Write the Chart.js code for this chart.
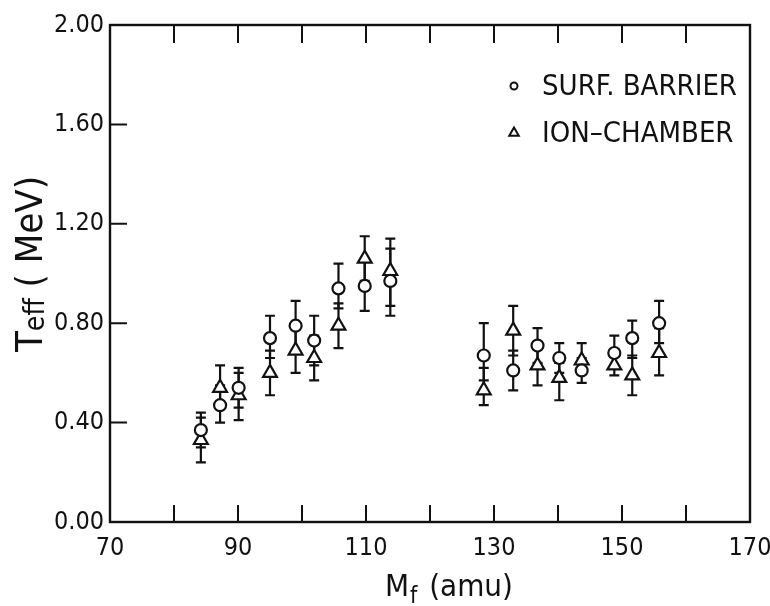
<!DOCTYPE html>
<html>
<head>
<meta charset="utf-8">
<script src="https://cdn.jsdelivr.net/npm/chart.js@4.4.0/dist/chart.umd.min.js"></script>
<style>
    html, body { margin: 0; padding: 0; background: #fff; }
    canvas { display: block; }
</style>
</head>
<body>
<canvas id="teffChart" width="770" height="606"></canvas>
<script>
// fragment mass (amu), shared by both detectors
const massValues = [84.2, 87.2, 90.1, 95.0, 99.0, 101.9, 105.7, 109.8, 113.8,
                    128.4, 133.0, 136.8, 140.2, 143.7, 148.8, 151.6, 155.8];

// surface barrier detector (circles)
const surfValues = [0.37, 0.47, 0.54, 0.74, 0.79, 0.73, 0.94, 0.95, 0.97,
                    0.67, 0.61, 0.71, 0.66, 0.61, 0.68, 0.74, 0.80];
const surfLow    = [0.30, 0.40, 0.46, 0.66, 0.69, 0.63, 0.86, 0.85, 0.83,
                    0.57, 0.53, 0.64, 0.60, 0.56, 0.62, 0.66, 0.72];
const surfHigh   = [0.44, 0.55, 0.62, 0.83, 0.89, 0.83, 1.04, 1.05, 1.10,
                    0.80, 0.69, 0.78, 0.72, 0.66, 0.75, 0.81, 0.89];

// ion chamber (triangles)
const ionValues  = [0.33, 0.54, 0.51, 0.60, 0.69, 0.66, 0.79, 1.06, 1.01,
                    0.53, 0.77, 0.63, 0.58, 0.65, 0.63, 0.59, 0.68];
const ionLow     = [0.24, 0.47, 0.41, 0.51, 0.60, 0.57, 0.70, 0.97, 0.87,
                    0.47, 0.67, 0.55, 0.49, 0.60, 0.59, 0.51, 0.59];
const ionHigh    = [0.42, 0.63, 0.60, 0.69, 0.78, 0.75, 0.88, 1.15, 1.14,
                    0.62, 0.87, 0.70, 0.64, 0.72, 0.67, 0.67, 0.78];

const seriesLabels = ['SURF. BARRIER', 'ION\u2013CHAMBER'];
const xLabelTicks = [70, 90, 110, 130, 150, 170];

const ink = '#111';
const fontFamily = "'DejaVu Sans Condensed', 'DejaVu Sans', sans-serif";

function toPoints(ys) {
    return massValues.map((m, i) => ({ x: m, y: ys[i] }));
}

// vertical error bars with small caps, drawn under the markers
const errorBars = {
    id: 'errorBars',
    beforeDatasetsDraw(chart) {
        const ctx = chart.ctx;
        const yScale = chart.scales.y;
        ctx.save();
        ctx.strokeStyle = ink;
        ctx.lineWidth = 2.2;
        chart.data.datasets.forEach((ds, i) => {
            chart.getDatasetMeta(i).data.forEach((pt, j) => {
                const top = yScale.getPixelForValue(ds.errHigh[j]);
                const bottom = yScale.getPixelForValue(ds.errLow[j]);
                ctx.beginPath();
                ctx.moveTo(pt.x, top);
                ctx.lineTo(pt.x, bottom);
                ctx.moveTo(pt.x - 5, top);
                ctx.lineTo(pt.x + 5, top);
                ctx.moveTo(pt.x - 5, bottom);
                ctx.lineTo(pt.x + 5, bottom);
                ctx.stroke();
            });
        });
        ctx.restore();
    }
};

// frame, inward ticks, axis titles and the legend inside the plot
const frameAndText = {
    id: 'frameAndText',
    afterDraw(chart) {
        const ctx = chart.ctx;
        const area = chart.chartArea;
        const xs = chart.scales.x;
        const ys = chart.scales.y;
        ctx.save();
        ctx.strokeStyle = ink;
        ctx.lineWidth = 2.4;
        ctx.strokeRect(area.left, area.top, area.right - area.left, area.bottom - area.top);

        ctx.lineWidth = 2;
        ctx.beginPath();
        xs.ticks.forEach(t => {
            if (t.value <= xs.min || t.value >= xs.max) return;
            const px = xs.getPixelForValue(t.value);
            ctx.moveTo(px, area.bottom);
            ctx.lineTo(px, area.bottom - 17);
            ctx.moveTo(px, area.top);
            ctx.lineTo(px, area.top + 18);
        });
        ys.ticks.forEach(t => {
            if (t.value <= ys.min || t.value >= ys.max) return;
            const py = ys.getPixelForValue(t.value);
            ctx.moveTo(area.left, py);
            ctx.lineTo(area.left + 17, py);
        });
        ctx.stroke();

        // x title: M_f (amu)
        ctx.fillStyle = ink;
        ctx.textBaseline = 'alphabetic';
        ctx.textAlign = 'left';
        let x = 385;
        ctx.font = '31px ' + fontFamily;
        ctx.fillText('M', x, 596);
        x += ctx.measureText('M').width + 1;
        ctx.font = '23px ' + fontFamily;
        ctx.fillText('f', x, 603);
        x += ctx.measureText('f').width + 3;
        ctx.font = '31px ' + fontFamily;
        ctx.fillText(' (amu)', x, 596);

        // y title: T_eff ( MeV), rotated
        ctx.save();
        ctx.translate(42, 352);
        ctx.rotate(-Math.PI / 2);
        let s = 0;
        ctx.font = '38px ' + fontFamily;
        ctx.fillText('T', s, 0);
        s += ctx.measureText('T').width;
        ctx.font = '28px ' + fontFamily;
        ctx.fillText('eff', s, 2);
        s += ctx.measureText('eff').width;
        ctx.font = '38px ' + fontFamily;
        ctx.fillText(' ( MeV)', s, 0);
        ctx.restore();

        // legend
        const rows = [86, 133];
        chart.data.datasets.forEach((ds, i) => {
            ctx.lineWidth = 2;
            ctx.strokeStyle = ink;
            ctx.fillStyle = '#fff';
            Chart.helpers.drawPoint(ctx, {
                pointStyle: ds.pointStyle,
                radius: ds.pointStyle === 'triangle' ? 5.5 : 3.5,
                borderWidth: 2
            }, 514, rows[i]);
            ctx.fillStyle = ink;
            ctx.font = '29px ' + fontFamily;
            ctx.textBaseline = 'middle';
            ctx.fillText(ds.label, 542, rows[i] + 1);
        });
        ctx.restore();
    }
};

const canvas = document.getElementById('teffChart');
new Chart(canvas.getContext('2d'), {
    type: 'scatter',
    data: {
        datasets: [{
            label: seriesLabels[0],
            data: toPoints(surfValues),
            errLow: surfLow,
            errHigh: surfHigh,
            pointStyle: 'circle',
            pointRadius: 6,
            pointBorderWidth: 2.2,
            borderColor: ink,
            backgroundColor: '#fff'
        }, {
            label: seriesLabels[1],
            data: toPoints(ionValues),
            errLow: ionLow,
            errHigh: ionHigh,
            pointStyle: 'triangle',
            pointRadius: 8,
            pointBorderWidth: 2.2,
            borderColor: ink,
            backgroundColor: '#fff'
        }]
    },
    options: {
        responsive: false,
        animation: false,
        layout: {
            padding: { left: 0, right: 20, top: 25, bottom: 0 }
        },
        plugins: {
            legend: { display: false },
            tooltip: { enabled: false }
        },
        scales: {
            x: {
                type: 'linear',
                min: 70,
                max: 170,
                afterFit: scale => {
                    scale.height = 84;
                    scale.paddingRight = 0;
                    scale.paddingLeft = 0;
                },
                grid: { display: false, drawTicks: false },
                border: { display: false },
                ticks: {
                    stepSize: 10,
                    autoSkip: false,
                    maxRotation: 0,
                    padding: 11,
                    color: ink,
                    font: { family: fontFamily, size: 25 },
                    callback: v => xLabelTicks.includes(v) ? String(v) : ''
                }
            },
            y: {
                min: 0,
                max: 2,
                afterFit: scale => { scale.width = 110; },
                grid: { display: false, drawTicks: false },
                border: { display: false },
                ticks: {
                    stepSize: 0.4,
                    padding: 6,
                    color: ink,
                    font: { family: fontFamily, size: 25 },
                    callback: v => v.toFixed(2)
                }
            }
        }
    },
    plugins: [errorBars, frameAndText]
});
</script>
</body>
</html>
